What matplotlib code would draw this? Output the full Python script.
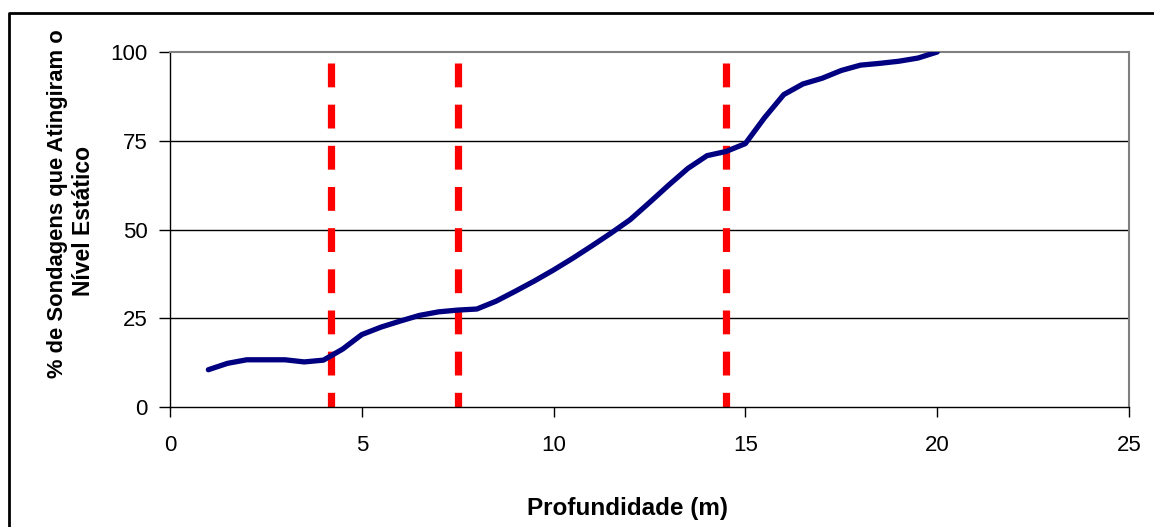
import matplotlib.pyplot as plt
from matplotlib.lines import Line2D

plt.rcParams['font.family'] = ['Liberation Sans', 'DejaVu Sans']

# Data
depth = [1, 1.5, 2, 2.5, 3, 3.5, 4, 4.5, 5, 5.5, 6, 6.5, 7, 7.5, 8, 8.5, 9, 9.5,
         10, 10.5, 11, 11.5, 12, 12.5, 13, 13.5, 14, 14.5, 15, 15.5, 16, 16.5,
         17, 17.5, 18, 18.5, 19, 19.5, 20]
pct = [10.5, 12.3, 13.3, 13.3, 13.3, 12.7, 13.2, 16.3, 20.4, 22.5, 24.2, 25.8,
       26.8, 27.3, 27.6, 29.8, 32.6, 35.5, 38.6, 41.9, 45.4, 49.0, 52.8, 57.6,
       62.5, 67.2, 70.8, 72.0, 74.2, 81.5, 88.0, 91.0, 92.6, 94.8, 96.3, 96.8,
       97.4, 98.3, 100.0]
limits = [4.2, 7.5, 14.5]
xticks = [0, 5, 10, 15, 20, 25]
yticks = [0, 25, 50, 75, 100]
ylabel_lines = ['% de Sondagens que Atingiram o', 'Nível Estático']

W, H = 1154, 527
fig = plt.figure(figsize=(W / 100, H / 100), dpi=100)
ax = fig.add_axes([0.1473, 0.2277, 0.8310, 0.6736])

for y in yticks[1:-1]:
    ax.axhline(y, color='black', lw=1, zorder=1)

for x in limits:
    ax.plot([x, x], [97, 0], color='#ff0000', lw=5.2, dashes=(3.3, 2.4), zorder=2)

ax.plot(depth, pct, color='#000080', lw=3.8, solid_joinstyle='round',
        solid_capstyle='round', zorder=3)

ax.set_xlim(0, 25)
ax.set_ylim(0, 100)
ax.set_xticks(xticks)
ax.set_yticks(yticks)
ax.tick_params(axis='x', direction='out', length=7, width=1, pad=13, labelsize=16)
ax.tick_params(axis='y', direction='out', length=8, width=1, pad=8, labelsize=16)

for side in ['top', 'right']:
    ax.spines[side].set_color('#808080')
    ax.spines[side].set_linewidth(1.5)
for side in ['left', 'bottom']:
    ax.spines[side].set_color('black')
    ax.spines[side].set_linewidth(1)

ax.set_xlabel('Profundidade (m)', fontsize=17.5, fontweight='bold')
ax.xaxis.set_label_coords(0.4776, -0.285)
ax.xaxis.label.set_va('center')

# y label, two lines placed as in the original
fig.text(58 / W, 1 - 204 / H, ylabel_lines[0], rotation=90, ha='center',
         va='center', fontsize=15.8, fontweight='bold')
fig.text(84 / W, 1 - 221 / H, ylabel_lines[1], rotation=90, ha='center',
         va='center', fontsize=16.5, fontweight='bold')

# outer chart frame (only top and left visible)
fig.add_artist(Line2D([9 / W, 9 / W, 1.01], [-0.01, 1 - 13 / H, 1 - 13 / H],
                      transform=fig.transFigure, color='black', lw=2))

fig.savefig('out.png', dpi=100)
